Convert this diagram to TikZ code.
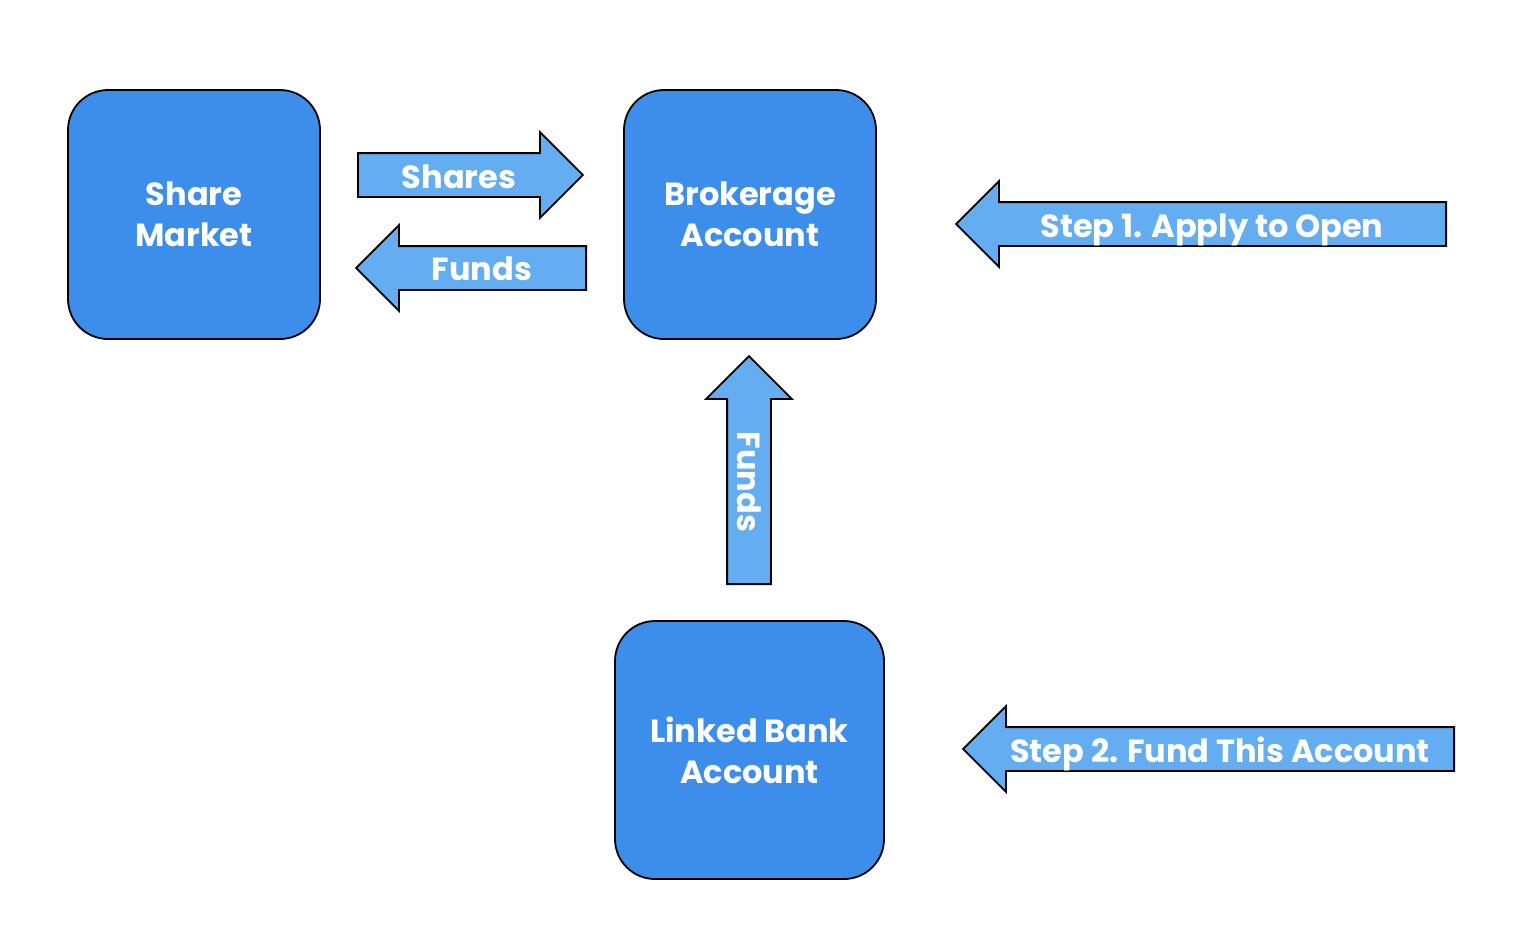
\documentclass[tikz,border=0pt]{standalone}
\usepackage{fontspec}
\setmainfont{Poppins}
\usepackage{xcolor}
\usepackage{tikz}
\usetikzlibrary{shapes.arrows}
\definecolor{acctblue}{HTML}{3D8EEA}
\definecolor{flowblue}{HTML}{63ADF0}
\tikzset{
    acct_node/.style = {rectangle, rounded corners=20pt, draw=black, line width=0.9pt, fill=acctblue, text=white, align=center, font=\fontsize{16}{20.5}\selectfont\bfseries},
    flow_arrow/.style = {single arrow, draw=black, line width=0.9pt, fill=flowblue, inner xsep=0pt, inner ysep=10.5pt, minimum width=42pt, single arrow head extend=10.5pt, anchor=tail},
    flow_text/.style = {text=white, inner sep=0pt, font=\fontsize{16}{18}\selectfont\bfseries}
}

\begin{document}
\begin{tikzpicture}[x=0.5pt, y=-0.5pt]
    \useasboundingbox (0,0) rectangle (1536,950);

    \node [acct_node, minimum width=126pt, minimum height=124.5pt] (market) at (194,214.5) {Share\\Market};
    \node [acct_node, minimum width=126pt, minimum height=124.5pt] (brokerage) at (750,214.5) {Brokerage\\Account};
    \node [acct_node, minimum width=134.5pt, minimum height=129pt] (bank) at (749.5,750) {Linked Bank\\Account};

    \node [flow_arrow, minimum height=112.5pt] (shares) at (357,175) {};
    \node [flow_arrow, minimum height=115pt, shape border rotate=180] (funds_back) at (587,268) {};
    \node [flow_arrow, minimum height=114pt, shape border rotate=90, inner xsep=10.5pt, inner ysep=0pt] (funds_up) at (749,585) {};
    \node [flow_arrow, minimum height=245pt, shape border rotate=180] (step_one) at (1447,224) {};
    \node [flow_arrow, minimum height=245.5pt, shape border rotate=180] (step_two) at (1455,749) {};

    \node [flow_text, anchor=base] (shares_lbl) at (459,188) {Shares};
    \node [flow_text, anchor=base] (funds_back_lbl) at (482,280) {Funds};
    \node [flow_text, rotate=-90] (funds_up_lbl) at (749,482) {Funds};
    \node [flow_text, anchor=base] (step_one_lbl) at (1212,237) {Step 1. Apply to Open};
    \node [flow_text, anchor=base] (step_two_lbl) at (1220,762) {Step 2. Fund This Account};
\end{tikzpicture}
\end{document}
